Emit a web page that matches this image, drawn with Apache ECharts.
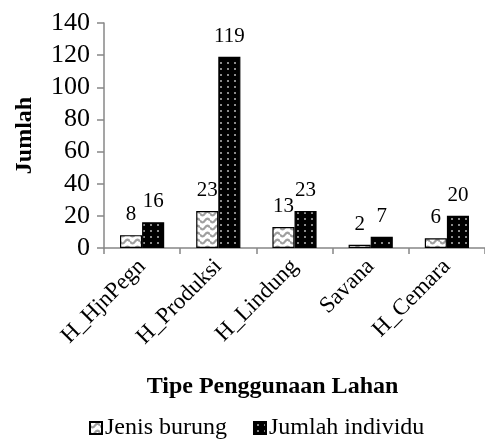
<!DOCTYPE html>
<html>
<head>
<meta charset="utf-8">
<script src="https://cdn.jsdelivr.net/npm/echarts@6/dist/echarts.min.js"></script>
<style>
html,body{margin:0;padding:0;background:#fff;}
#chart{width:485px;height:441px;}
</style>
</head>
<body>
<div id="chart"></div>
<script>
var categories = ['H_HjnPegn', 'H_Produksi', 'H_Lindung', 'Savana', 'H_Cemara'];
var jenisBurung = [8, 23, 13, 2, 6];
var jumlahIndividu = [16, 119, 23, 7, 20];
var seriesNames = ['Jenis burung', 'Jumlah individu'];
var yTicks = {min: 0, max: 140, interval: 20};
var xTitle = 'Tipe Penggunaan Lahan';
var yTitle = 'Jumlah';

var FONT = "'Liberation Serif','Times New Roman',serif";

function wavePattern() {
  var c = document.createElement('canvas');
  c.width = 10; c.height = 7;
  var g = c.getContext('2d');
  g.fillStyle = '#ffffff';
  g.fillRect(0, 0, 10, 7);
  g.strokeStyle = '#a0a0a0';
  g.lineWidth = 2.2;
  for (var k = -1; k <= 1; k++) {
    g.beginPath();
    for (var x = 0; x <= 10; x += 0.5) {
      var y = 3.5 + k * 7 + 1.8 * Math.sin(2 * Math.PI * x / 10);
      if (x === 0) g.moveTo(x, y); else g.lineTo(x, y);
    }
    g.stroke();
  }
  return c;
}
function dotPattern() {
  var c = document.createElement('canvas');
  c.width = 7; c.height = 6;
  var g = c.getContext('2d');
  g.fillStyle = '#000000';
  g.fillRect(0, 0, 7, 6);
  g.fillStyle = '#8a8a8a';
  g.fillRect(3, 2, 2, 2);
  return c;
}

var chart = echarts.init(document.getElementById('chart'), null, {renderer: 'canvas'});
var axisGray = '#878787';
chart.setOption({
  backgroundColor: '#ffffff',
  animation: false,
  textStyle: {fontFamily: FONT, color: '#000'},
  grid: {left: 104, top: 23, width: 387, height: 225, containLabel: false},
  legend: {
    data: seriesNames,
    left: 84,
    top: 411,
    icon: 'rect',
    itemWidth: 12,
    itemHeight: 12,
    itemGap: 26,
    textStyle: {fontFamily: FONT, fontSize: 24, color: '#000', padding: [0, 0, 0, -2]}
  },
  xAxis: {
    type: 'category',
    data: categories,
    boundaryGap: true,
    name: xTitle,
    nameLocation: 'middle',
    nameGap: 127,
    nameTextStyle: {fontFamily: FONT, fontSize: 24, fontWeight: 'bold', color: '#000', padding: [0, 44, 0, 0]},
    axisLine: {show: true, lineStyle: {color: axisGray, width: 1.5}},
    axisTick: {show: true, length: 6, lineStyle: {color: axisGray, width: 1.5}},
    axisLabel: {rotate: 45, fontFamily: FONT, fontSize: 23, color: '#000', margin: 15, interval: 0},
    splitLine: {show: false}
  },
  yAxis: {
    type: 'value',
    min: yTicks.min,
    max: yTicks.max,
    interval: yTicks.interval,
    name: yTitle,
    nameLocation: 'middle',
    nameGap: 67,
    nameRotate: 90,
    nameTextStyle: {fontFamily: FONT, fontSize: 24, fontWeight: 'bold', color: '#000'},
    axisLine: {show: true, lineStyle: {color: axisGray, width: 1.5}},
    axisTick: {show: true, length: 7, lineStyle: {color: axisGray, width: 1.5}},
    axisLabel: {fontFamily: FONT, fontSize: 26, color: '#000', margin: 14},
    splitLine: {show: false}
  },
  series: [
    {
      name: seriesNames[0],
      type: 'bar',
      data: jenisBurung,
      barGap: '0%',
      barCategoryGap: '42%',
      itemStyle: {color: {image: wavePattern(), repeat: 'repeat'}, borderColor: '#000', borderWidth: 1.2},
      label: {show: true, position: 'top', distance: 10, fontFamily: FONT, fontSize: 21, color: '#000'}
    },
    {
      name: seriesNames[1],
      type: 'bar',
      data: jumlahIndividu,
      barGap: '0%',
      barCategoryGap: '42%',
      itemStyle: {color: {image: dotPattern(), repeat: 'repeat'}, borderColor: '#000', borderWidth: 1.2},
      label: {show: true, position: 'top', distance: 10, fontFamily: FONT, fontSize: 21, color: '#000'}
    }
  ]
});
</script>
</body>
</html>
